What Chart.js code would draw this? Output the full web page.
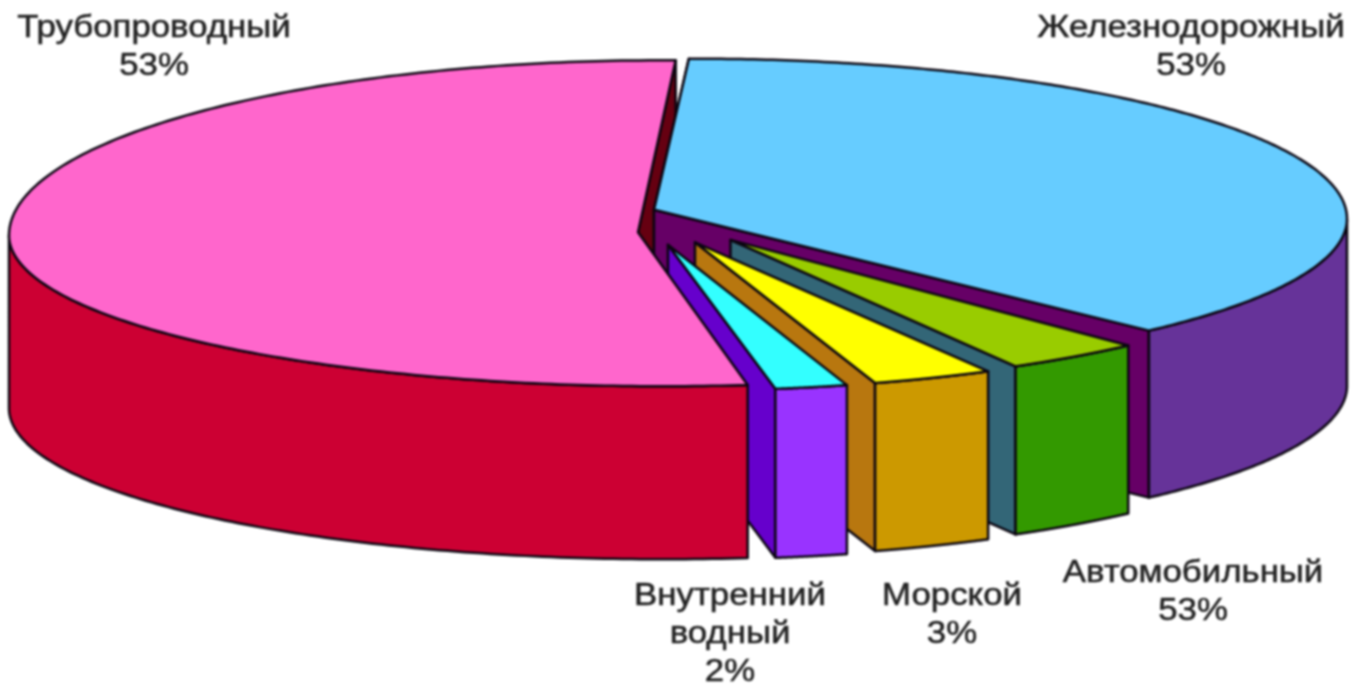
<!DOCTYPE html>
<html>
<head>
<meta charset="utf-8">
<style>
  html, body { margin: 0; padding: 0; background: #fff; }
  #wrap { width: 1353px; height: 686px; }
  #chart { filter: blur(0.9px); }
</style>
<script src="https://cdn.jsdelivr.net/npm/chart.js@4/dist/chart.umd.min.js"></script>
</head>
<body>
<div id="wrap"><canvas id="chart" width="1353" height="686"></canvas></div>
<script>
// values
const categories = ['Железнодорожный', 'Автомобильный', 'Морской', 'Внутренний водный', 'Трубопроводный'];
const sliceShares = [37.9, 4.0, 3.6, 2.2, 52.3];
// what the labels in the picture actually say
const shownPercents = ['53%', '53%', '3%', '2%', '53%'];

// colours
const topColors = ['#66ccff', '#99cc00', '#ffff00', '#33ffff', '#ff66cc'];
const outerColors = ['#663399', '#339900', '#cc9900', '#9933ff', '#cc0033'];
const wallColors = ['#660066', '#336677', '#b8770f', '#6600cc', null];
const backWallColor = '#660011';

// explode distance per slice, and degrees cut off each side of a slice
// so the walls show between them
const sliceOffsets = [7.5, 10, 12, 12, 7.5];
const sliceTrim = [[-0.45, 0.6], [0.75, 1.3], [1.2, 1], [1.2, 0.3], [0.74, -1.2]];

// how the flat pie is squashed on screen. the picture is not a true ellipse,
// the back half is deeper than the front half, so each gets its own radius
const discX = [680.5, 673, 673, 673, 676.5];
const discY = [220, 222, 222, 222, 235];
const radiusX = 653;
const radiusBack = [160, 163, 163, 163, 175];
const radiusFront = [156, 163, 163, 163, 151];
const depths = [167, 168, 168, 169, 173];
// how far the tip sits from the slice centre
const tipShift = [[-40, -9], [46, 14], [13, 15], [-10, 17], [-24, -3]];

// label anchors (centre x, first line y)
const labelSpots = [[1191, 28], [1193, 573], [952, 596], [730, 596], [154, 28]];
const lineHeight = 38;

function sliceGeometry(arc, index) {
  const p = arc.getProps(['x', 'y', 'startAngle', 'endAngle', 'outerRadius'], true);
  const offset = sliceOffsets[index];
  const mid = (p.startAngle + p.endAngle) / 2;
  const kx = radiusX / p.outerRadius;
  const toScreen = (angle, r) => {
    const dx = Math.cos(angle) * r + Math.cos(mid) * offset;
    const dy = Math.sin(angle) * r + Math.sin(mid) * offset;
    const ky = (dy < 0 ? radiusBack[index] : radiusFront[index]) / p.outerRadius;
    return [discX[index] + dx * kx, discY[index] + dy * ky];
  };
  const from = p.startAngle + sliceTrim[index][0] * Math.PI / 180;
  const to = p.endAngle - sliceTrim[index][1] * Math.PI / 180;
  const rim = [];
  const frontRim = [];
  for (let i = 0; i <= 240; i++) {
    const angle = from + (to - from) * i / 240;
    const pt = toScreen(angle, p.outerRadius);
    rim.push(pt);
    if (Math.sin(angle) >= 0) frontRim.push(pt);
  }
  const c = toScreen(0, 0);
  return {
    rim: rim,
    frontRim: frontRim,
    depth: depths[index],
    tip: [c[0] + tipShift[index][0], c[1] + tipShift[index][1]]
  };
}

function fillShape(ctx, points, color) {
  ctx.beginPath();
  points.forEach((pt, i) => i ? ctx.lineTo(pt[0], pt[1]) : ctx.moveTo(pt[0], pt[1]));
  ctx.closePath();
  ctx.fillStyle = color;
  ctx.fill();
  ctx.stroke();
}

function extrude(points, depth) {
  const low = points.map(pt => [pt[0], pt[1] + depth]);
  return points.concat(low.reverse());
}

const pie3d = {
  id: 'pie3d',
  beforeDatasetsDraw(chart) {
    const ctx = chart.ctx;
    const arcs = chart.getDatasetMeta(0).data;
    const shapes = arcs.map(sliceGeometry);
    ctx.save();
    ctx.strokeStyle = '#0a0510';
    ctx.lineWidth = 2.5;
    ctx.lineJoin = 'round';

    // dark faces in the gap at the back, seen between the two big slices
    const lastShape = shapes[shapes.length - 1];
    fillShape(ctx, extrude([lastShape.tip, lastShape.rim[lastShape.rim.length - 1]], lastShape.depth), backWallColor);
    fillShape(ctx, extrude([shapes[0].tip, shapes[0].rim[0]], shapes[0].depth), backWallColor);

    shapes.forEach((g, i) => {
      if (wallColors[i]) fillShape(ctx, extrude([g.tip, g.rim[g.rim.length - 1]], g.depth), wallColors[i]);
      fillShape(ctx, extrude(g.frontRim, g.depth), outerColors[i]);
      fillShape(ctx, [g.tip].concat(g.rim), topColors[i]);
    });
    ctx.restore();
    return false;
  },
  afterDraw(chart) {
    const ctx = chart.ctx;
    ctx.save();
    ctx.font = '30px "Liberation Sans"';
    ctx.fillStyle = '#222';
    ctx.strokeStyle = '#222';
    ctx.lineWidth = 0.5;
    ctx.textAlign = 'center';
    ctx.textBaseline = 'middle';
    categories.forEach((name, i) => {
      const lines = name.split(' ').concat(shownPercents[i]);
      lines.forEach((line, n) => {
        ctx.save();
        ctx.translate(labelSpots[i][0], labelSpots[i][1] + n * lineHeight);
        ctx.scale(1.16, 1.03);
        ctx.fillText(line, 0, 0);
        ctx.strokeText(line, 0, 0);
        ctx.restore();
      });
    });
    ctx.restore();
  }
};

new Chart(document.getElementById('chart'), {
  type: 'pie',
  data: {
    labels: categories,
    datasets: [{
      data: sliceShares,
      backgroundColor: topColors,
      offset: sliceOffsets,
      borderWidth: 0
    }]
  },
  options: {
    responsive: false,
    animation: false,
    rotation: 0,
    plugins: {
      legend: { display: false },
      tooltip: { enabled: false }
    }
  },
  plugins: [pie3d]
});
</script>
</body>
</html>
